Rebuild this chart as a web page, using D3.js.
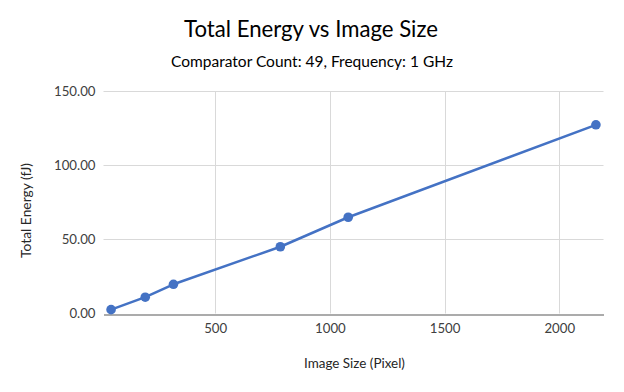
<!DOCTYPE html>
<html>
<head>
<meta charset="utf-8">
<script src="https://cdn.jsdelivr.net/npm/d3@7"></script>
<style>
  html, body { margin: 0; padding: 0; background: #fff; }
  svg { display: block; font-family: Lato, "Open Sans", sans-serif; }
</style>
</head>
<body>
<svg id="chart" width="624" height="392"></svg>
<script>
const titleText = "Total Energy vs Image Size";
const subtitleText = "Comparator Count: 49, Frequency: 1 GHz";
const xTitle = "Image Size (Pixel)";
const yTitle = "Total Energy (fJ)";
const imageSizes = [46, 195, 318, 784, 1080, 2160];
const totalEnergy = [2.6, 11.0, 19.7, 45.0, 64.9, 127.2];
const xTicks = [500, 1000, 1500, 2000];
const yTicks = [0, 50, 100, 150];
const xDomain = [13, 2193];
const yDomain = [0, 150];

const svg = d3.select("#chart");
const margin = { left: 103.5, right: 20.5, top: 91, bottom: 78.5 };
const W = 624, H = 392;

const x = d3.scaleLinear().domain(xDomain).range([margin.left, W - margin.right]);
const y = d3.scaleLinear().domain(yDomain).range([H - margin.bottom, margin.top]);

function fit(sel, target) {
  const n = sel.node();
  const fs = parseFloat(sel.attr("font-size"));
  const w = n.getComputedTextLength();
  if (w > 0) sel.attr("font-size", (fs * target / w).toFixed(2));
}

// gridlines
svg.append("g")
  .selectAll("line.h").data(yTicks.filter(d => d !== 0)).join("line")
  .attr("x1", x.range()[0]).attr("x2", x.range()[1])
  .attr("y1", d => Math.round(y(d)) + 0.5).attr("y2", d => Math.round(y(d)) + 0.5)
  .attr("stroke", "#d9d9d9").attr("stroke-width", 1);

svg.append("g")
  .selectAll("line.v").data(xTicks).join("line")
  .attr("x1", d => Math.round(x(d)) + 0.5).attr("x2", d => Math.round(x(d)) + 0.5)
  .attr("y1", y.range()[1]).attr("y2", y.range()[0])
  .attr("stroke", "#d9d9d9").attr("stroke-width", 1);

// tick label font size fitted to the reference width of "100.00"
const probe = svg.append("text").attr("font-size", 13).text(d3.format(".2f")(100));
fit(probe, 41.5);
const tickFs = parseFloat(probe.attr("font-size"));
probe.remove();

// x axis
const xAxis = svg.append("g")
  .attr("transform", `translate(0,${Math.round(y(0)) + 0.5})`)
  .call(d3.axisBottom(x).tickValues(xTicks).tickSize(0).tickPadding(9).tickFormat(d3.format("d")));
xAxis.select(".domain").attr("stroke", "#595959").attr("stroke-width", 1.2);
xAxis.selectAll("text").attr("font-size", tickFs).attr("fill", "#404040")
  .attr("font-family", "Lato, 'Open Sans', sans-serif");

// y axis
const yAxis = svg.append("g")
  .attr("transform", `translate(${x.range()[0]},0)`)
  .call(d3.axisLeft(y).tickValues(yTicks).tickSize(0).tickPadding(8).tickFormat(d3.format(".2f")));
yAxis.select(".domain").remove();
yAxis.selectAll("text").attr("font-size", tickFs).attr("fill", "#404040")
  .attr("font-family", "Lato, 'Open Sans', sans-serif");

// line
const line = d3.line().x((d, i) => x(imageSizes[i])).y(d => y(d));
svg.append("path").datum(totalEnergy)
  .attr("d", line).attr("fill", "none")
  .attr("stroke", "#4472C4").attr("stroke-width", 2.5).attr("stroke-linejoin", "round");

svg.append("g").selectAll("circle").data(totalEnergy).join("circle")
  .attr("cx", (d, i) => x(imageSizes[i])).attr("cy", d => y(d)).attr("r", 4.8)
  .attr("fill", "#4472C4");

// titles
const t = svg.append("text").attr("x", 311).attr("y", 36.7).attr("text-anchor", "middle")
  .attr("font-size", 22).attr("fill", "#000").text(titleText);
fit(t, 254);
const st = svg.append("text").attr("x", 312).attr("y", 66.7).attr("text-anchor", "middle")
  .attr("font-size", 16).attr("fill", "#000").text(subtitleText);
fit(st, 282);
const xt = svg.append("text").attr("x", 354.5).attr("y", 368).attr("text-anchor", "middle")
  .attr("font-size", 14).attr("fill", "#262626").text(xTitle);
fit(xt, 101);
const yt = svg.append("text").attr("transform", `translate(30.5,210.5) rotate(-90)`).attr("text-anchor", "middle")
  .attr("font-size", 14).attr("fill", "#262626").text(yTitle);
fit(yt, 95);
</script>
</body>
</html>
